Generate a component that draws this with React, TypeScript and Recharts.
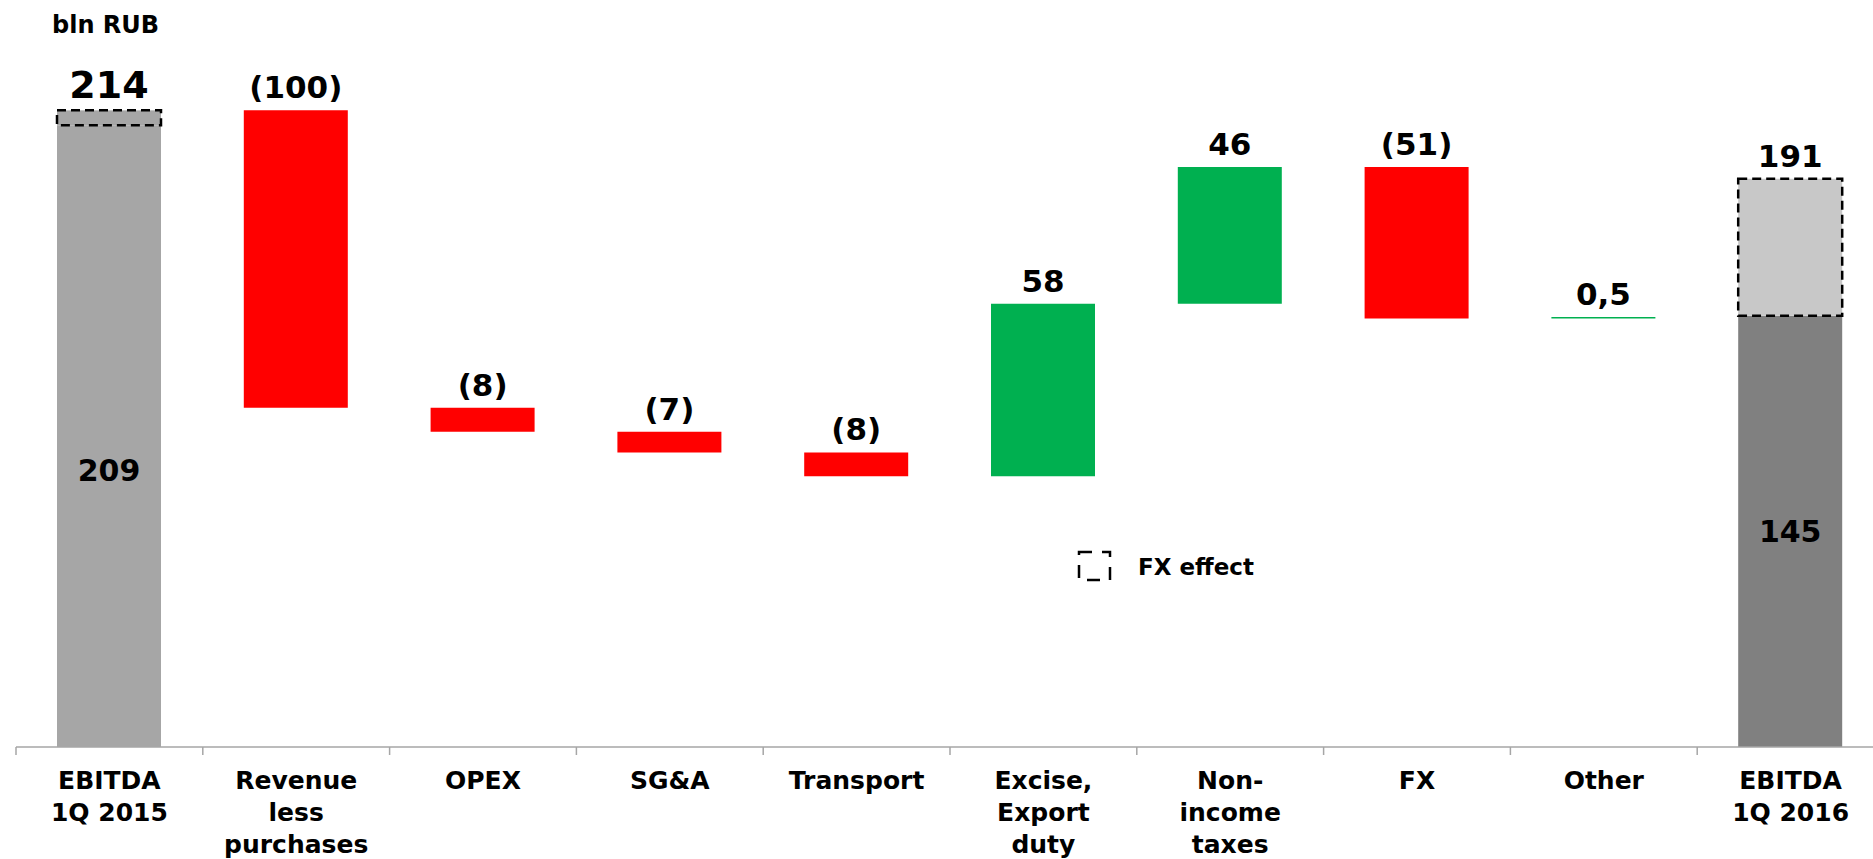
import { BarChart, Bar, XAxis, YAxis, Cell, LabelList } from 'recharts';

// EBITDA bridge, bln RUB
const categories = [
  'EBITDA\n1Q 2015',
  'Revenue\nless\npurchases',
  'OPEX',
  'SG&A',
  'Transport',
  'Excise,\nExport\nduty',
  'Non-\nincome\ntaxes',
  'FX',
  'Other',
  'EBITDA\n1Q 2016',
];

const startEbitda = 209;
const startFxEffect = 5;
const changes = [-100, -8, -7, -8, 58, 46, -51, 0.5];
const endEbitda = 145;
const endFxEffect = 46;

const valueLabels = ['214', '(100)', '(8)', '(7)', '(8)', '58', '46', '(51)', '0,5', '191'];
const totalLabels = ['209', '145'];

type Row = {
  name: string;
  base: number;
  total: number;
  down: number;
  up: number;
  fx: number;
  totalLabel: string;
  downLabel: string;
  upLabel: string;
  fxLabel: string;
};

const buildRows = (): Row[] => {
  const rows: Row[] = [];
  const blank = { downLabel: '', upLabel: '', down: 0, up: 0, base: 0 };
  rows.push({
    ...blank,
    name: categories[0],
    total: startEbitda,
    fx: startFxEffect,
    totalLabel: totalLabels[0],
    fxLabel: valueLabels[0],
  });
  let running = startEbitda + startFxEffect;
  changes.forEach((c, i) => {
    const lbl = valueLabels[i + 1];
    rows.push({
      name: categories[i + 1],
      base: c < 0 ? running + c : running,
      total: 0,
      down: c < 0 ? -c : 0,
      up: c > 0 ? c : 0,
      fx: 0,
      totalLabel: '',
      downLabel: c < 0 ? lbl : '',
      upLabel: c > 0 ? lbl : '',
      fxLabel: '',
    });
    running += c;
  });
  rows.push({
    ...blank,
    name: categories[categories.length - 1],
    total: endEbitda,
    fx: endFxEffect,
    totalLabel: totalLabels[1],
    fxLabel: valueLabels[valueLabels.length - 1],
  });
  return rows;
};

const data = buildRows();

const WIDTH = 1884;
const HEIGHT = 859;
const MARGIN = { top: 33, right: 0, left: 16, bottom: 0 };
const BAND = (WIDTH - MARGIN.left - MARGIN.right) / data.length;
const FONT = '"DejaVu Sans", Verdana, sans-serif';

const totalColors = ['#a6a6a6', '#808080'];
const fxColors = ['#a6a6a6', '#c8c8c8'];

// first column sits inside the first band
const isFirstColumn = (x: number) => x < MARGIN.left + BAND;

const CategoryTick = (props: any) => {
  const { x, y, payload, index } = props;
  const lines = String(payload.value).split('\n');
  const left = x - BAND / 2;
  return (
    <g>
      <line x1={left} y1={y} x2={left} y2={y + 8} stroke="#a6a6a6" strokeWidth={1.5} />
      {index === data.length - 1 && (
        <line x1={x + BAND / 2} y1={y} x2={x + BAND / 2} y2={y + 8} stroke="#a6a6a6" strokeWidth={1.5} />
      )}
      <text
        x={x}
        y={y + 42}
        textAnchor="middle"
        fontFamily={FONT}
        fontWeight="bold"
        fontSize={25}
        fill="#000"
      >
        {lines.map((l, i) => (
          <tspan key={i} x={x} dy={i === 0 ? 0 : 32}>
            {l}
          </tspan>
        ))}
      </text>
    </g>
  );
};

const topLabel = (props: any) => {
  const { x, y, width, value } = props;
  if (!value) return null;
  return (
    <text
      x={x + width / 2}
      y={y - 12}
      textAnchor="middle"
      fontFamily={FONT}
      fontWeight="bold"
      fontSize={isFirstColumn(x) ? 38 : 31}
      fill="#000"
    >
      {value}
    </text>
  );
};

const innerLabel = (props: any) => {
  const { x, y, width, height, value } = props;
  if (!value) return null;
  const pos = isFirstColumn(x) ? 0.555 : 0.5;
  return (
    <text
      x={x + width / 2}
      y={y + height * pos}
      textAnchor="middle"
      dominantBaseline="central"
      fontFamily={FONT}
      fontWeight="bold"
      fontSize={30}
      fill="#000"
    >
      {value}
    </text>
  );
};

const FxBox = (props: any) => {
  const { x, y, width, height, fill } = props;
  if (!height || height <= 0) return <g />;
  return (
    <rect
      x={x}
      y={y}
      width={width}
      height={height}
      fill={fill}
      stroke="#000"
      strokeWidth={2.5}
      strokeDasharray="9 5"
    />
  );
};

export default function App() {
  return (
    <div
      style={{
        position: 'fixed',
        left: 0,
        top: 0,
        width: 1873,
        height: 859,
        overflow: 'hidden',
        background: '#fff',
      }}
    >
      <BarChart width={WIDTH} height={HEIGHT} data={data} margin={MARGIN} barSize={104}>
        <XAxis
          dataKey="name"
          height={112}
          interval={0}
          tickSize={0}
          tickMargin={0}
          tickLine={false}
          axisLine={{ stroke: '#a6a6a6', strokeWidth: 1.5 }}
          tick={<CategoryTick />}
        />
        <YAxis hide domain={[0, 240]} />
        <Bar dataKey="base" stackId="w" fill="transparent" isAnimationActive={false} />
        <Bar dataKey="total" stackId="w" isAnimationActive={false}>
          {data.map((_, i) => (
            <Cell key={i} fill={i === 0 ? totalColors[0] : totalColors[1]} />
          ))}
          <LabelList dataKey="totalLabel" content={innerLabel} />
        </Bar>
        <Bar dataKey="down" stackId="w" fill="#ff0000" isAnimationActive={false}>
          <LabelList dataKey="downLabel" content={topLabel} />
        </Bar>
        <Bar dataKey="up" stackId="w" fill="#00b050" isAnimationActive={false}>
          <LabelList dataKey="upLabel" content={topLabel} />
        </Bar>
        <Bar dataKey="fx" stackId="w" shape={<FxBox />} isAnimationActive={false}>
          {data.map((_, i) => (
            <Cell key={i} fill={i === 0 ? fxColors[0] : fxColors[1]} />
          ))}
          <LabelList dataKey="fxLabel" content={topLabel} />
        </Bar>
      </BarChart>
      <svg
        width={1873}
        height={859}
        style={{ position: 'absolute', left: 0, top: 0, pointerEvents: 'none' }}
      >
        <text x={52} y={33} fontFamily={FONT} fontWeight="bold" fontSize={24} fill="#000">
          bln RUB
        </text>
        <rect
          x={1079}
          y={552}
          width={31}
          height={28}
          fill="none"
          stroke="#000"
          strokeWidth={2.5}
          strokeDasharray="13 10"
        />
        <text x={1138} y={575} fontFamily={FONT} fontWeight="bold" fontSize={23} fill="#000">
          FX effect
        </text>
      </svg>
    </div>
  );
}
